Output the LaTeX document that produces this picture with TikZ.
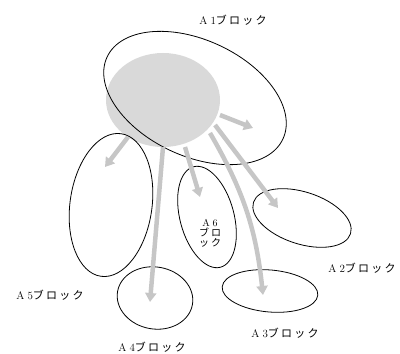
\documentclass[tikz,border=0pt]{standalone}
\usepackage{fontspec}
\newfontfamily\jp[LetterSpace=20]{Noto Sans CJK JP}
\usetikzlibrary{shapes.geometric,arrows.meta}
\begin{document}
\begin{tikzpicture}[x=1pt,y=1pt,
    blk/.style={draw,ellipse,line width=0.8pt,inner sep=0pt},
    flow/.style={draw=gray!45,line width=4.5pt,-{Triangle[width=11pt,length=9pt]}},
    lbl/.style={font=\fontsize{11}{12}\selectfont,inner sep=0pt}]
    \useasboundingbox (0,0) rectangle (400,354);
    % core blob
    \node[ellipse,fill=gray!30,minimum width=114pt,minimum height=94pt] (core) at (163,254) {};
    % blocks
    \node[blk,minimum width=194pt,minimum height=116pt,rotate=-25] (A1) at (195,256) {};
    \node[blk,minimum width=102pt,minimum height=52pt,rotate=-18] (A2) at (302,136) {};
    \node[blk,minimum width=96pt,minimum height=42pt,rotate=-5] (A3) at (270,63) {};
    \node[blk,minimum width=76pt,minimum height=62pt,rotate=-10] (A4) at (155,56) {};
    \node[blk,minimum width=82pt,minimum height=144pt,rotate=-8] (A5) at (111,149) {};
    \node[blk,minimum width=54pt,minimum height=104pt,rotate=15] (A6) at (207,137) {};
    % arrow ends
    \coordinate (s1) at (220,239); \coordinate (e1) at (253,226);
    \coordinate (s2) at (215,229); \coordinate (e2) at (278,146);
    \coordinate (s3) at (210,221); \coordinate (e3) at (263,59);
    \coordinate (s4) at (163,207); \coordinate (e4) at (150,52);
    \coordinate (s5) at (128,217); \coordinate (e5) at (105,187);
    \coordinate (s6) at (185,207); \coordinate (e6) at (200,157);
    \draw[flow] (s1) -- (e1);
    \draw[flow] (s2) -- (e2);
    \draw[flow] (s3) to[bend left=12] (e3);
    \draw[flow] (s4) -- (e4);
    \draw[flow] (s5) -- (e5);
    \draw[flow] (s6) -- (e6);
    % labels
    \node[lbl] (t1) at (233,334) {A\;1{\jp ブロック}};
    \node[lbl] (t2) at (362,86) {A\;2{\jp ブロック}};
    \node[lbl] (t3) at (285,21) {A\;3{\jp ブロック}};
    \node[lbl] (t4) at (152,7) {A\;4{\jp ブロック}};
    \node[lbl] (t5) at (50,59) {A\;5{\jp ブロック}};
    \node[lbl,align=center,font=\fontsize{10}{10}\selectfont] (t6) at (210,121) {A\;6\\{\jp ブロ}\\{\jp ック}};
\end{tikzpicture}
\end{document}
